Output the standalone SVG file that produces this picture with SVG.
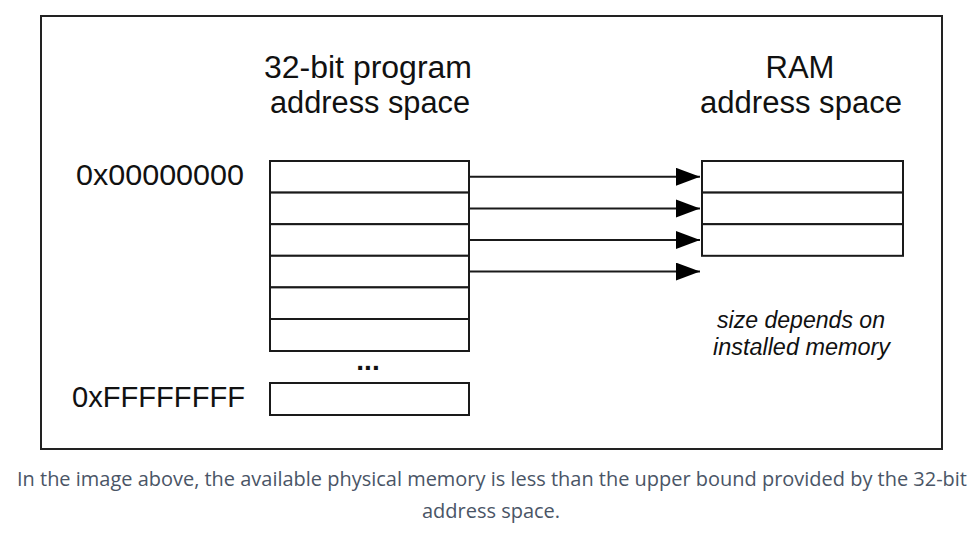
<svg xmlns="http://www.w3.org/2000/svg" width="973" height="535" viewBox="0 0 973 535">
<style>
.box{fill:#fff;stroke:#1a1a1a;stroke-width:2}
.hd{font-family:"Liberation Sans",Arial,sans-serif;font-size:31px;fill:#111;text-anchor:middle}
.lb{font-family:"Liberation Sans",Arial,sans-serif;font-size:30px;fill:#111;text-anchor:end}
.it{font-family:"Liberation Sans",Arial,sans-serif;font-size:23px;font-style:italic;fill:#111;text-anchor:middle}
.cap{font-family:"Open Sans",sans-serif;font-size:20px;fill:#4a5566;text-anchor:middle}
.conn line{stroke:#1a1a1a;stroke-width:2}
</style>
<defs>
<marker id="ah" markerUnits="userSpaceOnUse" markerWidth="26" markerHeight="20" refX="24" refY="9" orient="auto">
<path d="M0,0 L24,9 L0,18 Z" fill="#000"/>
</marker>
</defs>
<rect width="973" height="535" fill="#fff"/>
<rect x="41" y="16" width="901" height="433" fill="none" stroke="#222" stroke-width="2"/>
<g id="program-space">
<text class="hd" x="368" y="78" textLength="208" lengthAdjust="spacingAndGlyphs">32-bit program</text>
<text class="hd" x="370" y="113" textLength="200" lengthAdjust="spacingAndGlyphs">address space</text>
<rect class="box" x="270" y="161" width="199" height="31.6"/>
<rect class="box" x="270" y="192.6" width="199" height="31.6"/>
<rect class="box" x="270" y="224.2" width="199" height="31.6"/>
<rect class="box" x="270" y="255.8" width="199" height="31.6"/>
<rect class="box" x="270" y="287.4" width="199" height="31.6"/>
<rect class="box" x="270" y="319" width="199" height="32"/>
<text x="368" y="370" font-family="Liberation Sans,Arial,sans-serif" font-size="28" font-weight="bold" text-anchor="middle" fill="#111">...</text>
<rect class="box" x="270" y="383" width="199" height="32"/>
<text class="lb" x="244" y="185" textLength="168" lengthAdjust="spacingAndGlyphs">0x00000000</text>
<text class="lb" x="245" y="407" textLength="173" lengthAdjust="spacingAndGlyphs">0xFFFFFFFF</text>
</g>
<g id="ram-space">
<text class="hd" x="800" y="78">RAM</text>
<text class="hd" x="801" y="113" textLength="202" lengthAdjust="spacingAndGlyphs">address space</text>
<rect class="box" x="702" y="161" width="201" height="31.6"/>
<rect class="box" x="702" y="192.6" width="201" height="31.6"/>
<rect class="box" x="702" y="224.2" width="201" height="31.6"/>
<text class="it" x="801" y="328" textLength="168" lengthAdjust="spacingAndGlyphs">size depends on</text>
<text class="it" x="801.5" y="355" textLength="177" lengthAdjust="spacingAndGlyphs">installed memory</text>
</g>
<g id="connectors" class="conn">
<line x1="469" y1="176.8" x2="700" y2="176.8" marker-end="url(#ah)"/>
<line x1="469" y1="208.4" x2="700" y2="208.4" marker-end="url(#ah)"/>
<line x1="469" y1="240" x2="700" y2="240" marker-end="url(#ah)"/>
<line x1="469" y1="271.6" x2="700" y2="271.6" marker-end="url(#ah)"/>
</g>
<g id="caption">
<text class="cap" x="492" y="486" textLength="950" lengthAdjust="spacingAndGlyphs">In the image above, the available physical memory is less than the upper bound provided by the 32-bit</text>
<text class="cap" x="491" y="518">address space.</text>
</g>
</svg>
